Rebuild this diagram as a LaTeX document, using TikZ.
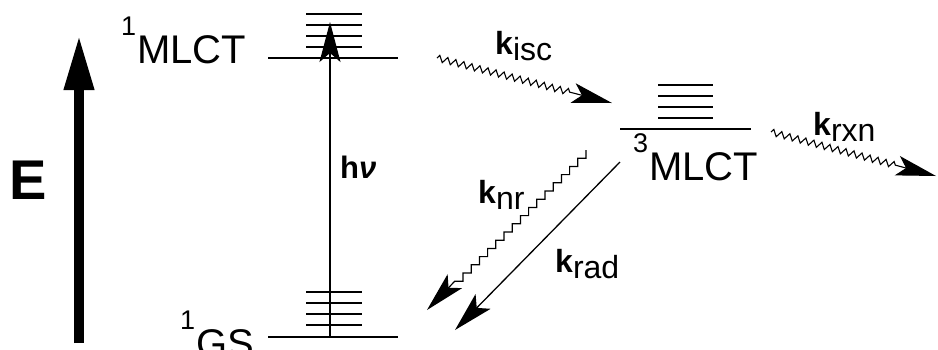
\documentclass[tikz,border=0pt]{standalone}
\usepackage{fontspec}
\setmainfont{Liberation Sans}
\usetikzlibrary{arrows.meta, decorations.pathmorphing, calc}
\tikzset{
  lvl/.style ={line width=1.6pt},
  vib/.style ={line width=1.5pt},
  fl/.style  ={line width=1.3pt, -{Stealth[length=40pt, width=21pt, inset=9pt]}},
  wv/.style  ={line width=1.1pt, -{Stealth[length=40pt, width=20pt, inset=9pt]},
               decorate, decoration={zigzag, segment length=8.3pt, amplitude=3.2pt, post length=42pt}},
  st/.style  ={font=\fontsize{40}{44}\selectfont, inner sep=0pt, anchor=base west},
  kl/.style  ={font=\fontsize{32}{36}\selectfont, inner sep=0pt, anchor=base west},
}
\newcommand{\rate}[1]{\textbf{k}\raisebox{-0.2em}{#1}}
\newcommand{\spin}[1]{\raisebox{0.7em}{\fontsize{27}{27}\selectfont #1}\hspace{1pt}}

\begin{document}
\begin{tikzpicture}[x=1pt, y=-1pt]
  \useasboundingbox (0,0) rectangle (938,349);
  \coordinate (s1) at (330,58);
  \coordinate (gs) at (330,337);
  \coordinate (t1) at (685,129);
  \draw[lvl] ($(s1)+(-62,0)$) -- ($(s1)+(68,0)$);
  \draw[lvl] ($(gs)+(-62,0)$) -- ($(gs)+(68,0)$);
  \draw[lvl] ($(t1)+(-65,0)$) -- ($(t1)+(66,0)$);
  \foreach \dy in {11,22,33,44} {
    \draw[vib] ($(s1)+(-24,-\dy)$) -- ($(s1)+(32,-\dy)$);
    \draw[vib] ($(gs)+(-24,-\dy-1)$) -- ($(gs)+(32,-\dy-1)$);
    \draw[vib] ($(t1)+(-27,-\dy)$) -- ($(t1)+(28,-\dy)$);
  }
  \node[st] (ls1) at (121,63) {\spin{1}MLCT};
  \node[st] (lt1) at (633,180) {\spin{3}MLCT};
  \node[st] (lgs) at (180,357) {\spin{1}GS};
  \node[font=\fontsize{56}{60}\selectfont\bfseries] (e) at (28,180) {E};
  \coordinate (e0) at (79,343);
  \coordinate (e1) at (79,35);
  \draw[line width=10pt, -{Triangle[length=55pt, width=28pt]}] (e0) -- (e1);
  \coordinate (hv1) at (330,22);
  \draw[fl] (gs) -- (hv1);
  \node[font=\fontsize{31}{34}\selectfont\bfseries, inner sep=0pt, anchor=base west] (hv) at (340,178) {h\textit{ν}};
  \coordinate (isc0) at (437,58);
  \coordinate (isc1) at (612,103);
  \draw[wv] (isc0) -- (isc1);
  \node[kl] (kisc) at (495,54) {\rate{isc}};
  \coordinate (rxn0) at (771,132);
  \coordinate (rxn1) at (936,176);
  \draw[wv] (rxn0) -- (rxn1);
  \node[kl] (krxn) at (813,135) {\rate{rxn}};
  \coordinate (rad0) at (620,162);
  \coordinate (rad1) at (455,330);
  \draw[fl] (rad0) -- (rad1);
  \node[kl] (krad) at (555,272) {\rate{rad}};
  \coordinate (nr0) at (586,150);
  \coordinate (nr1) at (427,310);
  \draw[line width=1.2pt, -{Stealth[length=40pt, width=20pt, inset=9pt]}] (nr0)
    \foreach \i in {1,...,16} { -- ++(0,8.2) -- ++(-8.2,0) } -- (nr1);
  \node[kl] (knr) at (478,203) {\rate{nr}};
\end{tikzpicture}
\end{document}
